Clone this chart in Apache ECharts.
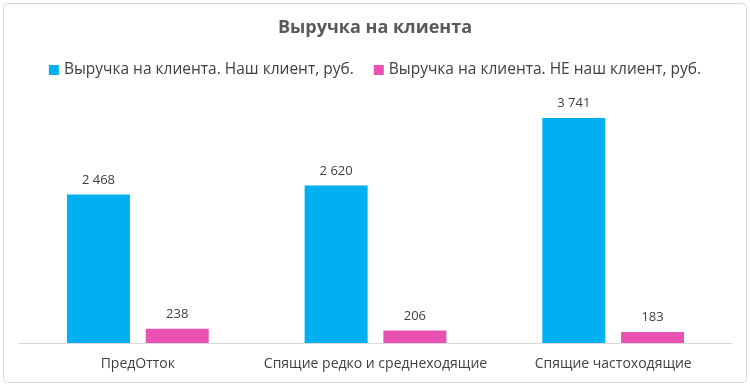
<!DOCTYPE html>
<html><head><meta charset="utf-8">
<script src="https://cdn.jsdelivr.net/npm/echarts@6/dist/echarts.min.js"></script>
<style>html,body{margin:0;padding:0;background:#fff}#c{width:750px;height:387px}</style>
</head><body><div id="c"></div>
<script>
const categories = ['ПредОтток', 'Спящие редко и среднеходящие', 'Спящие частоходящие'];
const seriesNames = ['Выручка на клиента. Наш клиент, руб.', 'Выручка на клиента. НЕ наш клиент, руб.'];
const ourClient = [2468, 2620, 3741];
const notOurClient = [238, 206, 183];

const font = 'Open Sans';
const fmt = v => String(v).replace(/\B(?=(\d{3})+(?!\d))/g, ' ');
const chart = echarts.init(document.getElementById('c'), null, {renderer: 'canvas'});
chart.setOption({
  animation: false,
  backgroundColor: '#fff',
  graphic: [{type: 'rect', shape: {x: 3.5, y: 3.5, width: 743, height: 379, r: 4}, style: {fill: 'none', stroke: '#d9d9d9', lineWidth: 1}, silent: true}],
  title: {text: 'Выручка на клиента', left: 'center', top: 14,
    textStyle: {fontFamily: font, fontSize: 18, fontWeight: 'bold', color: '#595959'}},
  legend: {top: 57, left: 'center', itemWidth: 10, itemHeight: 10, itemGap: 20,
    textStyle: {fontFamily: font, fontSize: 15.5, color: '#404040'},
    data: seriesNames.map(n => ({name: n, icon: 'rect'}))},
  grid: {left: 19, right: 18, top: 102.4, bottom: 44},
  xAxis: {type: 'category', data: categories,
    axisLine: {lineStyle: {color: '#d9d9d9', width: 1}}, axisTick: {show: false},
    axisLabel: {fontFamily: font, fontSize: 14, color: '#404040', margin: 14, interval: 0}},
  yAxis: {type: 'value', min: 0, max: 4000, show: false, splitLine: {show: false}},
  series: [
    {name: seriesNames[0], type: 'bar', data: ourClient, barWidth: 63, barGap: '25%',
      itemStyle: {color: '#00B0F0'},
      label: {show: true, position: 'top', distance: 8, formatter: p => fmt(p.value), fontFamily: font, fontSize: 13, color: '#404040'}},
    {name: seriesNames[1], type: 'bar', data: notOurClient, barWidth: 63,
      itemStyle: {color: '#E952B3'},
      label: {show: true, position: 'top', distance: 8, formatter: p => fmt(p.value), fontFamily: font, fontSize: 13, color: '#404040'}}
  ]
});
</script></body></html>
